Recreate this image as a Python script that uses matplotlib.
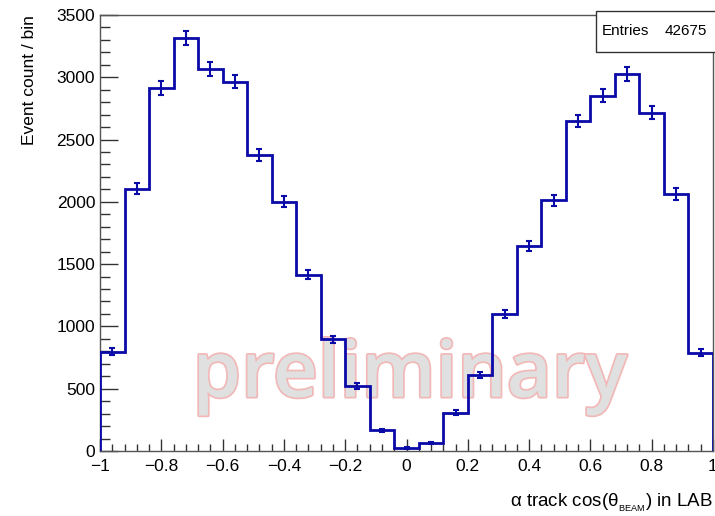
import numpy as np
import matplotlib
matplotlib.use("Agg")
import matplotlib.pyplot as plt
import matplotlib.patheffects as pe
from matplotlib.patches import Rectangle
from matplotlib.ticker import MultipleLocator

# bin edges of cos(theta_BEAM), 25 bins from -1 to 1
bin_lo = -1.0
bin_hi = 1.0
n_bins = 25

counts = [795, 2105, 2912, 3313, 3066, 2965, 2376, 2001, 1415, 897,
          524, 166, 24, 62, 308, 608, 1100, 1646, 2012, 2649,
          2852, 3026, 2716, 2063, 787]

entries_label = "Entries"
entries_value = "42675"

line_color = "#0a0aa8"

plt.rcParams["font.family"] = ["Liberation Sans", "DejaVu Sans"]
plt.rcParams["mathtext.fontset"] = "custom"
plt.rcParams["mathtext.rm"] = "Liberation Sans"

edges = np.linspace(bin_lo, bin_hi, n_bins + 1)
centers = 0.5 * (edges[:-1] + edges[1:])
y = np.array(counts, dtype=float)

fig = plt.figure(figsize=(7.15, 5.16), dpi=100)
ax = fig.add_axes([0.1399, 0.126, 0.8573, 0.845])

# watermark behind the histogram (inside the axes so the lines sit on top)
wm = ax.text(0.573, 0.231, "preliminary", fontsize=56, fontweight="semibold",
             family=["Open Sans", "DejaVu Sans"], transform=fig.transFigure,
             color="#e0e0e0", ha="center", va="baseline", zorder=1)
wm.set_path_effects([pe.Stroke(linewidth=2.5, foreground="#f2b8b8"), pe.Normal()])

ax.stairs(y, edges, color=line_color, linewidth=2, zorder=3)
ax.errorbar(centers, y, yerr=np.sqrt(y), fmt="none", ecolor=line_color,
            elinewidth=1.5, capsize=2.5, capthick=1.5, zorder=4)

ax.set_xlim(bin_lo, bin_hi)
ax.set_ylim(0, 3500)

ax.xaxis.set_major_locator(MultipleLocator(0.2))
ax.xaxis.set_minor_locator(MultipleLocator(0.04))
ax.yaxis.set_major_locator(MultipleLocator(500))
ax.yaxis.set_minor_locator(MultipleLocator(100))
ax.xaxis.set_major_formatter(
    plt.FuncFormatter(lambda v, p: f"{round(v, 6):g}".replace("-", "\u2212")))

ax.tick_params(axis="both", which="both", direction="in", top=False, right=False,
               labelsize=12.5, color="#333333")
ax.tick_params(axis="y", which="major", length=13, width=1)
ax.tick_params(axis="y", which="minor", length=7, width=1)
ax.tick_params(axis="x", which="major", length=9, width=1, pad=6)
ax.tick_params(axis="x", which="minor", length=5, width=1)

for s in ax.spines.values():
    s.set_color("#555555")
    s.set_linewidth(1)

ax.set_ylabel("Event count / bin", fontsize=12.5, loc="top", labelpad=14)
ax.set_xlabel("α track cos(θ$_{_{\\mathrm{BEAM}}}$) in LAB", fontsize=13.5,
              loc="right", labelpad=12)

# stats box, sticking out past the right edge like the ROOT canvas
fig.patches.append(Rectangle((0.8336, 0.899), 0.2, 0.08, transform=fig.transFigure,
                             facecolor="white", edgecolor="#333333", linewidth=1,
                             zorder=5))
fig.text(0.842, 0.939, entries_label, fontsize=11, ha="left", va="center", zorder=6)
fig.text(0.989, 0.939, entries_value, fontsize=11, ha="right", va="center", zorder=6)

fig.savefig("out.png", dpi=100)
